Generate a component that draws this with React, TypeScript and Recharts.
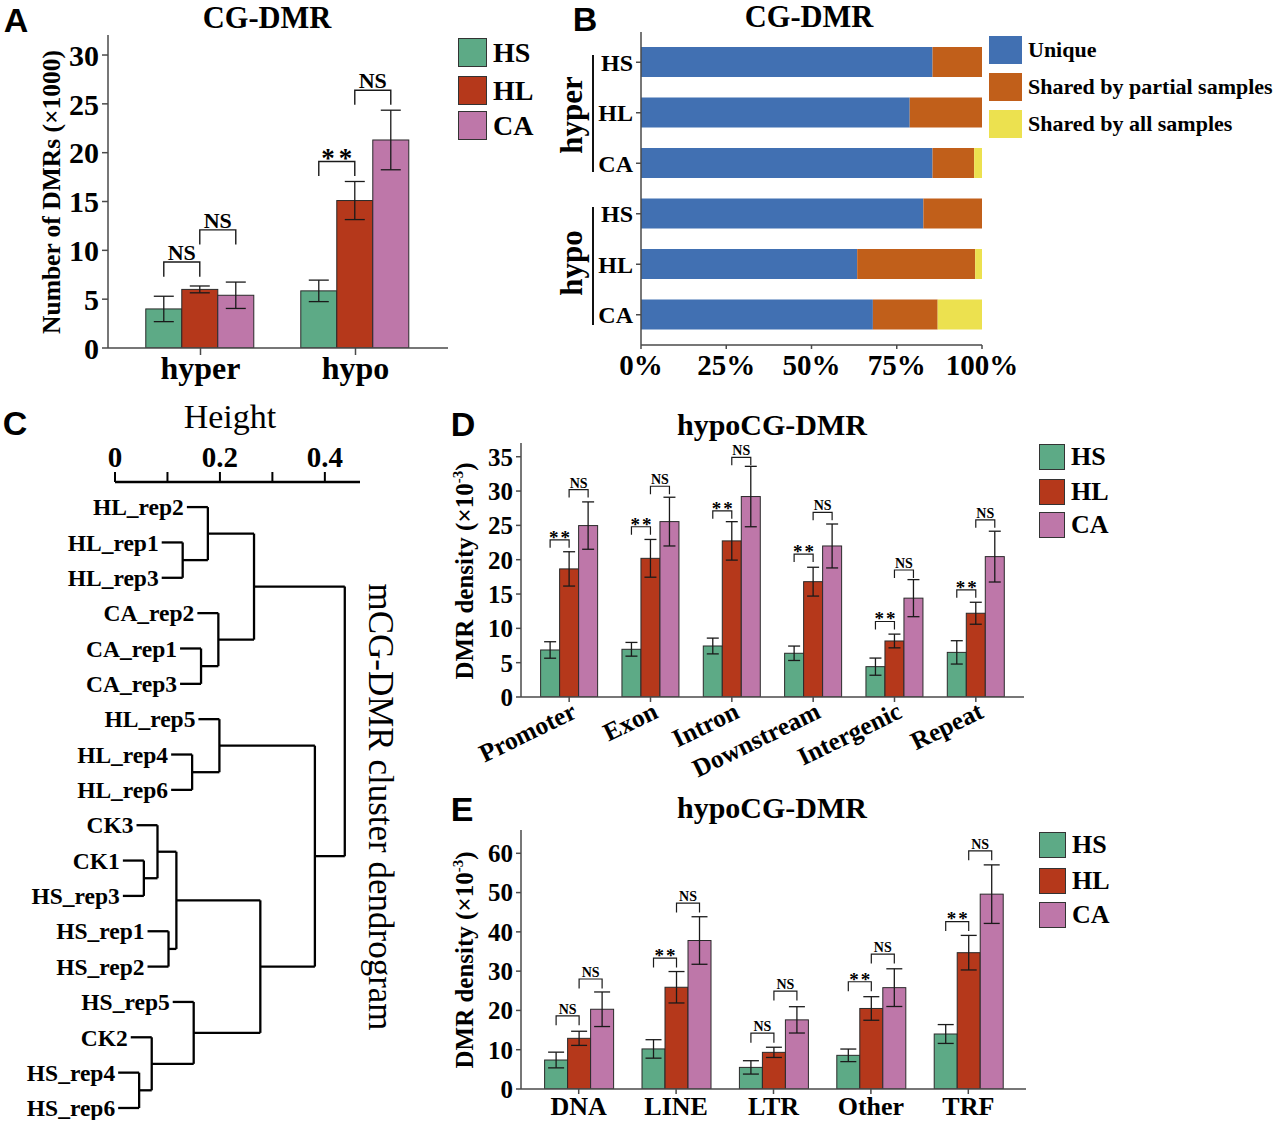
import React from 'react';
import { BarChart, Bar, XAxis, YAxis, ErrorBar, ComposedChart, Scatter, ReferenceLine } from 'recharts';

const SERIF = '"Liberation Serif", "Times New Roman", Times, serif';
const SANS = '"Liberation Sans", Arial, Helvetica, sans-serif';
const INK = '#1a1a1a';
const FRAME = '#4a4a4a';

// ---------- shared series ----------
const groupNames = ['HS', 'HL', 'CA'];
const groupColors = ['#5DAA86', '#B5381B', '#BE77A9'];

// ---------- Panel A ----------
const aCategories = ['hyper', 'hypo'];
const aHS = [4.0, 5.85];
const aHSerr = [1.3, 1.1];
const aHL = [6.0, 15.1];
const aHLerr = [0.35, 1.95];
const aCA = [5.4, 21.3];
const aCAerr = [1.35, 3.05];
const aSig1 = ['NS', '**'];
const aSig1Y = [8.8, 19.1];
const aSig2 = ['NS', 'NS'];
const aSig2Y = [12.1, 26.4];
const aTicks = [0, 5, 10, 15, 20, 25, 30];

// ---------- Panel B ----------
const bGroups = ['hyper', 'hyper', 'hyper', 'hypo', 'hypo', 'hypo'];
const bRows = ['HS', 'HL', 'CA', 'HS', 'HL', 'CA'];
const bUnique = [0.855, 0.788, 0.855, 0.828, 0.634, 0.68];
const bPartial = [0.145, 0.212, 0.122, 0.172, 0.346, 0.19];
const bAll = [0, 0, 0.023, 0, 0.02, 0.13];
const bSeries = ['Unique', 'Shared by partial samples', 'Shared by all samples'];
const bColors = ['#4170B2', '#C15F1A', '#ECE14F'];
const bTicks = [0, 0.25, 0.5, 0.75, 1];
const bTickLabels = ['0%', '25%', '50%', '75%', '100%'];

// ---------- Panel C (dendrogram merges: left child, right child, height) ----------
const cMergeA: (string | number)[] = ['HL_rep1', 'HL_rep2', 'CA_rep1', 'CA_rep2', 1, 'HL_rep4', 'HL_rep5', 'CK1', 'CK3', 'HS_rep1', 8, 'HS_rep4', 'CK2', 'HS_rep5', 10, 6, 4];
const cMergeB: (string | number)[] = ['HL_rep3', 0, 'CA_rep3', 2, 3, 'HL_rep6', 5, 'HS_rep3', 7, 'HS_rep2', 9, 'HS_rep6', 11, 12, 13, 14, 15];
const cMergeH = [0.129, 0.177, 0.164, 0.197, 0.265, 0.147, 0.199, 0.055, 0.081, 0.102, 0.117, 0.046, 0.07, 0.15, 0.277, 0.381, 0.438];
const cHang = 0.04;
const cTicks = [0, 0.1, 0.2, 0.3, 0.4];
const cTickLabels = ['0', '', '0.2', '', '0.4'];

// ---------- Panel D ----------
const dCategories = ['Promoter', 'Exon', 'Intron', 'Downstream', 'Intergenic', 'Repeat'];
const dHS = [6.85, 6.95, 7.43, 6.37, 4.42, 6.5];
const dHSerr = [1.2, 1.0, 1.15, 1.05, 1.25, 1.7];
const dHL = [18.66, 20.2, 22.74, 16.8, 8.16, 12.2];
const dHLerr = [2.5, 2.75, 2.8, 2.1, 1.0, 1.6];
const dCA = [24.97, 25.55, 29.2, 22.0, 14.4, 20.45];
const dCAerr = [3.45, 3.55, 4.4, 3.2, 2.7, 3.7];
const dSig1 = ['**', '**', '**', '**', '**', '**'];
const dSig1Y = [22.9, 24.8, 27.1, 20.8, 11.0, 15.6];
const dSig2 = ['NS', 'NS', 'NS', 'NS', 'NS', 'NS'];
const dSig2Y = [30.2, 30.7, 34.9, 26.9, 18.5, 25.8];
const dTicks = [0, 5, 10, 15, 20, 25, 30, 35];

// ---------- Panel E ----------
const eCategories = ['DNA', 'LINE', 'LTR', 'Other', 'TRF'];
const eHS = [7.38, 10.2, 5.5, 8.57, 14.0];
const eHSerr = [2.0, 2.35, 1.7, 1.6, 2.4];
const eHL = [12.9, 25.9, 9.33, 20.5, 34.7];
const eHLerr = [1.8, 4.0, 1.3, 3.0, 4.4];
const eCA = [20.3, 37.8, 17.6, 25.8, 49.6];
const eCAerr = [4.4, 6.05, 3.35, 4.8, 7.45];
const eSig1 = ['NS', '**', 'NS', '**', '**'];
const eSig1Y = [18.6, 33.3, 14.2, 27.3, 42.6];
const eSig2 = ['NS', 'NS', 'NS', 'NS', 'NS'];
const eSig2Y = [28.0, 47.3, 24.9, 34.35, 60.6];
const eTicks = [0, 10, 20, 30, 40, 50, 60];

// ---------- helpers ----------
const Txt = ({ x, y, size, bold = true, font = SERIF, rotate = 0, children }: any) => (
  <div
    style={{
      position: 'absolute', left: x, top: y,
      transform: `translate(-50%, -50%) rotate(${rotate}deg)`,
      fontFamily: font, fontSize: size, fontWeight: bold ? 'bold' : 'normal',
      lineHeight: 1, whiteSpace: 'nowrap', color: '#000',
    }}
  >
    {children}
  </div>
);

const LegendHTML = ({ x, ys, boxW, boxH, textX, names, colors, fontSize, border }: any) => (
  <>
    {names.map((n: string, i: number) => (
      <React.Fragment key={n}>
        <div style={{ position: 'absolute', left: x, top: ys[i], width: boxW, height: boxH, background: colors[i], boxSizing: 'border-box', border: border ? '1.5px solid #333' : 'none' }} />
        <div style={{ position: 'absolute', left: textX, top: ys[i] + boxH / 2, transform: 'translateY(-50%)', fontFamily: SERIF, fontWeight: 'bold', fontSize, lineHeight: 1, whiteSpace: 'nowrap' }}>{n}</div>
      </React.Fragment>
    ))}
  </>
);

const plainShape = (props: any) => {
  const { x, y, width, height, fill } = props;
  if (!height) return <g />;
  return <rect x={x} y={y} width={width} height={height} fill={fill} stroke="#2a2a2a" strokeWidth={1} />;
};

const makeHLShape = (o: any) => (props: any) => {
  const { x, y, width, height, fill, payload } = props;
  const v = payload.HL;
  const k = v > 0 ? height / v : 0;
  const base = y + height;
  const py = (val: number) => base - val * k;
  const c0 = x - width / 2;
  const c1 = x + width / 2;
  const c2 = x + width * 1.5;
  const bracket = (xa: number, xb: number, yv: number, label: string, key: string) => {
    const yt = py(yv);
    const yl = py(yv - o.leg);
    const star = label.indexOf('*') >= 0;
    return (
      <g key={key}>
        <path d={`M${xa},${yl}V${yt}H${xb}V${yl}`} fill="none" stroke={INK} strokeWidth={o.bw} />
        <text
          x={(xa + xb) / 2 + (star ? o.starSpacing / 2 : 0)}
          y={star ? yt + o.starFont * 0.2 : yt - o.nsGap}
          textAnchor="middle" fontFamily={SERIF} fontWeight="bold"
          fontSize={star ? o.starFont : o.nsFont}
          letterSpacing={star ? o.starSpacing : 0}
          fill="#000"
        >
          {label}
        </text>
      </g>
    );
  };
  return (
    <g>
      <rect x={x} y={y} width={width} height={height} fill={fill} stroke="#2a2a2a" strokeWidth={1} />
      {bracket(c0, c1, payload.s1y, payload.s1, 'b1')}
      {bracket(c1, c2, payload.s2y, payload.s2, 'b2')}
    </g>
  );
};

const GroupedBars = (p: any) => {
  const data = p.categories.map((c: string, i: number) => ({
    name: c,
    HS: p.hs[i], HSe: p.hse[i],
    HL: p.hl[i], HLe: p.hle[i],
    CA: p.ca[i], CAe: p.cae[i],
    s1: p.sig1[i], s1y: p.sig1y[i], s2: p.sig2[i], s2y: p.sig2y[i],
  }));
  const hlShape = makeHLShape(p.bracket);
  const axisStyle = { stroke: FRAME, strokeWidth: 1.5 };
  return (
    <BarChart
      width={p.width} height={p.height} data={data} margin={p.margin}
      barGap={0} barCategoryGap={p.gap}
    >
      <XAxis
        dataKey="name" interval={0} padding={p.xPad} height={p.xHeight}
        tickSize={p.xTickSize} tickMargin={p.xTickMargin}
        axisLine={axisStyle} tickLine={{ stroke: FRAME, strokeWidth: 1.5 }}
        tick={p.xTick || { fontFamily: SERIF, fontWeight: 'bold', fontSize: p.xFont, fill: '#000' }}
      />
      <XAxis xAxisId="top" orientation="top" dataKey="name" height={0} tick={false} tickLine={false} axisLine={axisStyle} />
      <YAxis
        type="number" domain={p.domain} ticks={p.ticks} allowDataOverflow width={p.yWidth}
        tickSize={p.yTickSize} tickMargin={p.yTickMargin} interval={0}
        axisLine={axisStyle} tickLine={{ stroke: FRAME, strokeWidth: 1.5 }}
        tick={{ fontFamily: SERIF, fontWeight: 'bold', fontSize: p.yFont, fill: '#000' }}
      />
      <YAxis yAxisId="right" orientation="right" width={0} tick={false} tickLine={false} axisLine={axisStyle} />
      <Bar dataKey="HS" fill={groupColors[0]} shape={plainShape} isAnimationActive={false}>
        <ErrorBar dataKey="HSe" width={p.capW} stroke={INK} strokeWidth={1.3} isAnimationActive={false} />
      </Bar>
      <Bar dataKey="HL" fill={groupColors[1]} shape={hlShape} isAnimationActive={false}>
        <ErrorBar dataKey="HLe" width={p.capW} stroke={INK} strokeWidth={1.3} isAnimationActive={false} />
      </Bar>
      <Bar dataKey="CA" fill={groupColors[2]} shape={plainShape} isAnimationActive={false}>
        <ErrorBar dataKey="CAe" width={p.capW} stroke={INK} strokeWidth={1.3} isAnimationActive={false} />
      </Bar>
    </BarChart>
  );
};

const RotTick = (props: any) => {
  const { x, y, payload } = props;
  const ax = x + 9;
  const ay = y + 13;
  return (
    <text x={ax} y={ay} transform={`rotate(-26 ${ax} ${ay})`} textAnchor="end" fontFamily={SERIF} fontWeight="bold" fontSize={25.5} fill="#000">
      {payload.value}
    </text>
  );
};

// ---------- dendrogram geometry from merges ----------
const isLeaf = (n: string | number) => typeof n === 'string';
const leafOrder = (n: string | number): string[] =>
  isLeaf(n) ? [n as string] : [...leafOrder(cMergeA[n as number]), ...leafOrder(cMergeB[n as number])];
const cRoot = cMergeH.length - 1;
const cLeaves = leafOrder(cRoot);
const nodeY = (n: string | number): number =>
  isLeaf(n) ? cLeaves.indexOf(n as string) : (nodeY(cMergeA[n as number]) + nodeY(cMergeB[n as number])) / 2;
const cSegments: { x1: number; y1: number; x2: number; y2: number }[] = [];
const cLeafData: { x: number; y: number; name: string }[] = [];
cMergeH.forEach((h, i) => {
  const kids = [cMergeA[i], cMergeB[i]];
  const ys = kids.map(nodeY);
  cSegments.push({ x1: h, y1: ys[0], x2: h, y2: ys[1] });
  kids.forEach((kid, j) => {
    const start = isLeaf(kid) ? h - cHang : cMergeH[kid as number];
    cSegments.push({ x1: start, y1: ys[j], x2: h, y2: ys[j] });
    if (isLeaf(kid)) cLeafData.push({ x: start, y: ys[j], name: kid as string });
  });
});

const LeafLabel = (props: any) => {
  const { cx, cy, payload } = props;
  return (
    <text x={cx - 3} y={cy} dy="0.35em" textAnchor="end" fontFamily={SERIF} fontWeight="bold" fontSize={23.5} fill="#000">
      {payload.name}
    </text>
  );
};

export default function App() {
  const bData = bRows.map((r, i) => ({
    key: `${bGroups[i]}|${r}`,
    unique: bUnique[i], partial: bPartial[i], all: bAll[i],
  }));
  const bAxis = { stroke: FRAME, strokeWidth: 1.5 };

  return (
    <div style={{ position: 'absolute', left: 0, top: 0, width: 1280, height: 1125, background: '#fff', overflow: 'hidden', fontFamily: SERIF }}>
      {/* ===== Panel A ===== */}
      <div style={{ position: 'absolute', left: 0, top: 0 }}>
        <GroupedBars
          width={460} height={400} margin={{ top: 35, right: 12, bottom: 7, left: 0 }}
          categories={aCategories} hs={aHS} hse={aHSerr} hl={aHL} hle={aHLerr} ca={aCA} cae={aCAerr}
          sig1={aSig1} sig1y={aSig1Y} sig2={aSig2} sig2y={aSig2Y}
          domain={[0, 32.05]} ticks={aTicks} gap="14.7%" xPad={{ left: 15, right: 15 }}
          xHeight={45} xTickSize={7} xTickMargin={1} xFont={32}
          yWidth={108} yTickSize={6} yTickMargin={3} yFont={30}
          capW={10}
          bracket={{ leg: 1.5, bw: 1.4, nsFont: 22, nsGap: 2, starFont: 27, starSpacing: 4 }}
        />
      </div>
      <Txt x={16} y={20} size={34} font={SANS}>A</Txt>
      <Txt x={267} y={18} size={30.5}>CG-DMR</Txt>
      <Txt x={52} y={192} size={25.5} rotate={-90}>Number of DMRs (×1000)</Txt>
      <LegendHTML x={458} ys={[38, 76, 111]} boxW={29} boxH={29} textX={493} names={groupNames} colors={groupColors} fontSize={28} border />

      {/* ===== Panel B ===== */}
      <div style={{ position: 'absolute', left: 560, top: 0 }}>
        <BarChart layout="vertical" width={480} height={400} data={bData} margin={{ top: 32, right: 58, bottom: 7, left: 0 }} barSize={30}>
          <XAxis
            type="number" domain={[0, 1]} ticks={bTicks} interval={0} height={48}
            tickFormatter={(v: number) => bTickLabels[bTicks.indexOf(v)]}
            tickSize={4} tickMargin={5} axisLine={bAxis} tickLine={bAxis}
            tick={{ fontFamily: SERIF, fontWeight: 'bold', fontSize: 29, fill: '#000' }}
          />
          <XAxis xAxisId="top" orientation="top" type="number" domain={[0, 1]} height={0} tick={false} tickLine={false} axisLine={bAxis} />
          <YAxis
            type="category" dataKey="key" width={81} padding={{ top: 5, bottom: 5 }} interval={0}
            tickFormatter={(v: string) => v.split('|')[1]}
            tickSize={5} tickMargin={3} axisLine={bAxis} tickLine={bAxis}
            tick={{ fontFamily: SERIF, fontWeight: 'bold', fontSize: 24, fill: '#000' }}
          />
          <YAxis yAxisId="right" orientation="right" type="category" dataKey="key" width={0} tick={false} tickLine={false} axisLine={bAxis} />
          <Bar dataKey="unique" stackId="s" fill={bColors[0]} isAnimationActive={false} />
          <Bar dataKey="partial" stackId="s" fill={bColors[1]} isAnimationActive={false} />
          <Bar dataKey="all" stackId="s" fill={bColors[2]} isAnimationActive={false} />
        </BarChart>
      </div>
      <Txt x={585} y={19} size={34} font={SANS}>B</Txt>
      <Txt x={809} y={17} size={30.5}>CG-DMR</Txt>
      <Txt x={571} y={115} size={31} rotate={-90}>hyper</Txt>
      <Txt x={571} y={263} size={31} rotate={-90}>hypo</Txt>
      <div style={{ position: 'absolute', left: 592, top: 55, width: 1.5, height: 117, background: '#111' }} />
      <div style={{ position: 'absolute', left: 592, top: 207, width: 1.5, height: 118, background: '#111' }} />
      <LegendHTML x={989} ys={[36, 73, 110]} boxW={33} boxH={28} textX={1028} names={bSeries} colors={bColors} fontSize={22} border={false} />

      {/* ===== Panel C ===== */}
      <div style={{ position: 'absolute', left: 0, top: 400 }}>
        <ComposedChart width={420} height={720} margin={{ top: 42, right: 60, bottom: 0, left: 115 }}>
          <XAxis
            type="number" dataKey="x" orientation="top" domain={[0, 0.467]} ticks={cTicks} interval={0}
            height={40} tickSize={10} tickMargin={5}
            tickFormatter={(v: number) => cTickLabels[cTicks.indexOf(v)]}
            axisLine={{ stroke: '#000', strokeWidth: 2.5 }} tickLine={{ stroke: '#000', strokeWidth: 2 }}
            tick={{ fontFamily: SERIF, fontWeight: 'bold', fontSize: 29, fill: '#000' }}
          />
          <YAxis type="number" dataKey="y" domain={[-0.71, 17.34]} reversed hide width={0} />
          {cSegments.map((s, i) => (
            <ReferenceLine
              key={i}
              segment={[{ x: s.x1, y: s.y1 }, { x: s.x2, y: s.y2 }]}
              stroke="#000" strokeWidth={2.3} ifOverflow="visible"
            />
          ))}
          <Scatter data={cLeafData} shape={LeafLabel} isAnimationActive={false} />
        </ComposedChart>
      </div>
      <Txt x={15} y={423} size={34} font={SANS}>C</Txt>
      <Txt x={230} y={417} size={34} bold={false}>Height</Txt>
      <Txt x={380} y={807} size={35} bold={false} rotate={90}>mCG-DMR cluster dendrogram</Txt>

      {/* ===== Panel D ===== */}
      <div style={{ position: 'absolute', left: 440, top: 400 }}>
        <GroupedBars
          width={600} height={400} margin={{ top: 43, right: 16, bottom: 8, left: 0 }}
          categories={dCategories} hs={dHS} hse={dHSerr} hl={dHL} hle={dHLerr} ca={dCA} cae={dCAerr}
          sig1={dSig1} sig1y={dSig1Y} sig2={dSig2} sig2y={dSig2Y}
          domain={[0, 37]} ticks={dTicks} gap="14.9%" xPad={{ left: 7.5, right: 7.5 }}
          xHeight={95} xTickSize={5} xTickMargin={2} xTick={<RotTick />}
          yWidth={81} yTickSize={5} yTickMargin={3} yFont={25}
          capW={6}
          bracket={{ leg: 1.15, bw: 1.2, nsFont: 14, nsGap: 2, starFont: 19, starSpacing: 2 }}
        />
      </div>
      <Txt x={463} y={424} size={34} font={SANS}>D</Txt>
      <Txt x={772} y={425} size={30}>hypoCG-DMR</Txt>
      <Txt x={464} y={571} size={25} rotate={-90}>DMR density (×10<sup style={{ fontSize: '0.6em' }}>-3</sup>)</Txt>
      <LegendHTML x={1039} ys={[444, 479, 512]} boxW={26} boxH={26} textX={1071} names={groupNames} colors={groupColors} fontSize={26} border />

      {/* ===== Panel E ===== */}
      <div style={{ position: 'absolute', left: 440, top: 780 }}>
        <GroupedBars
          width={600} height={345} margin={{ top: 50, right: 14, bottom: 4, left: 0 }}
          categories={eCategories} hs={eHS} hse={eHSerr} hl={eHL} hle={eHLerr} ca={eCA} cae={eCAerr}
          sig1={eSig1} sig1y={eSig1Y} sig2={eSig2} sig2y={eSig2Y}
          domain={[0, 65.93]} ticks={eTicks} gap="15%" xPad={{ left: 9, right: 9 }}
          xHeight={32} xTickSize={5} xTickMargin={3} xFont={26}
          yWidth={81} yTickSize={5} yTickMargin={3} yFont={25}
          capW={8}
          bracket={{ leg: 2.4, bw: 1.2, nsFont: 14, nsGap: 2, starFont: 19, starSpacing: 2 }}
        />
      </div>
      <Txt x={462} y={809} size={34} font={SANS}>E</Txt>
      <Txt x={772} y={808} size={30}>hypoCG-DMR</Txt>
      <Txt x={464} y={960} size={25} rotate={-90}>DMR density (×10<sup style={{ fontSize: '0.6em' }}>-3</sup>)</Txt>
      <LegendHTML x={1039} ys={[832, 868, 902]} boxW={27} boxH={26} textX={1072} names={groupNames} colors={groupColors} fontSize={26} border />
    </div>
  );
}
